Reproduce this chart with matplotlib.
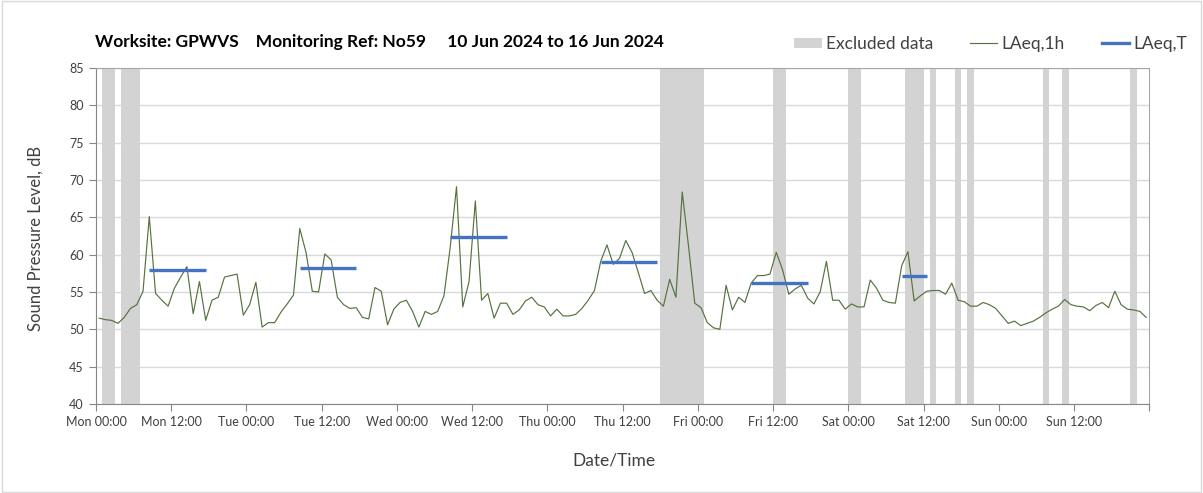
import numpy as np
import pandas as pd
import matplotlib
matplotlib.use('Agg')
import matplotlib.pyplot as plt
from matplotlib.patches import Patch, Rectangle
from matplotlib.lines import Line2D

plt.rcParams['font.family'] = ['Lato', 'DejaVu Sans']

# hourly LAeq,1h values from Mon 10 Jun 2024 00:00
laeq_1h = [
    51.5, 51.3, 51.2, 50.8, 51.6, 52.8, 53.3, 55.1, 65.1, 54.8,
    53.9, 53.1, 55.5, 57.0, 58.4, 52.1, 56.4, 51.2, 53.9, 54.3,
    57.0, 57.2, 57.4, 51.9, 53.3, 56.3, 50.3, 50.9, 50.9, 52.3,
    53.4, 54.6, 63.5, 60.3, 55.1, 55.0, 60.1, 59.3, 54.3, 53.3,
    52.8, 52.9, 51.6, 51.4, 55.6, 55.1, 50.6, 52.7, 53.6, 53.9,
    52.4, 50.3, 52.4, 52.0, 52.4, 54.5, 61.0, 69.1, 53.0, 56.4,
    67.2, 53.9, 54.8, 51.5, 53.5, 53.5, 52.0, 52.6, 53.8, 54.3,
    53.3, 53.0, 51.8, 52.7, 51.8, 51.8, 52.0, 52.8, 53.9, 55.2,
    59.1, 61.3, 58.7, 59.5, 61.9, 60.3, 57.6, 54.8, 55.2, 53.9,
    53.1, 56.7, 54.3, 68.4, 61.2, 53.5, 52.9, 50.9, 50.2, 50.0,
    55.9, 52.6, 54.3, 53.6, 56.2, 57.2, 57.2, 57.4, 60.3, 58.0,
    54.7, 55.4, 55.9, 54.2, 53.4, 55.0, 59.1, 53.9, 53.9, 52.7,
    53.4, 53.0, 53.0, 56.6, 55.5, 53.9, 53.6, 53.5, 58.5, 60.4,
    53.8, 54.5, 55.1, 55.2, 55.2, 54.7, 56.2, 53.9, 53.7, 53.1,
    53.1, 53.6, 53.3, 52.8, 51.8, 50.8, 51.1, 50.5, 50.8, 51.1,
    51.6, 52.2, 52.7, 53.1, 54.0, 53.3, 53.1, 53.0, 52.5, 53.2,
    53.6, 52.9, 55.1, 53.3, 52.7, 52.6, 52.4, 51.6]

# LAeq,T periods (hours from start) and levels
t_start = [8, 32, 56, 80, 104, 128]
t_end = [18, 42, 66, 90, 114, 133]
laeq_t = [58.0, 58.2, 62.3, 59.0, 56.2, 57.1]

# excluded data periods (hours from start)
excl_start = [1, 4, 90, 108, 120, 129, 133, 137, 139, 151, 154, 165]
excl_end = [3, 7, 97, 110, 122, 132, 134, 138, 140, 152, 155.2, 166]

t0 = pd.Timestamp('2024-06-10 00:00')
hr = pd.Timedelta(hours=1)
times = pd.date_range(t0 + 0.5 * hr, periods=len(laeq_1h), freq='h')

fig = plt.figure(figsize=(12.03, 4.93), dpi=100)
fig.patches.append(Rectangle((0.002, 0.003), 0.996, 0.994, transform=fig.transFigure,
                             fill=False, edgecolor='#d9d9d9', lw=1))
ax = fig.add_axes([96/1203, 1-404/493, (1149.3-96)/1203, (404-68)/493])

grey = '#d3d3d3'
for s, e in zip(excl_start, excl_end):
    ax.axvspan(t0 + s * hr, t0 + e * hr, color=grey, lw=0, zorder=1)

ax.plot(times, laeq_1h, color='#55723f', lw=0.85, zorder=3)
for s, e, v in zip(t_start, t_end, laeq_t):
    ax.plot([t0 + (s + 0.5) * hr, t0 + (e - 0.5) * hr], [v, v], color='#4472c4',
            lw=2.4, solid_capstyle='butt', zorder=4)

ax.set_xlim(t0, t0 + 168 * hr)
ax.set_ylim(40, 85)
ax.set_yticks(np.arange(40, 86, 5))
ax.grid(axis='y', color='#d9d9d9', lw=1)

ticks = pd.date_range(t0, periods=15, freq='12h')
labels = [t.strftime('%a %H:%M') for t in ticks]
labels[-1] = ''
ax.set_xticks(ticks)
ax.set_xticklabels(labels)
days = pd.date_range(t0, periods=8, freq='D')
ax.set_xticks(days, minor=True)
ax.grid(axis='x', which='minor', color='#d9d9d9', lw=1)
ax.set_axisbelow(True)
ax.tick_params(axis='both', which='major', length=5, color='#868686', labelsize=9,
               labelcolor='#404040', pad=4)
ax.tick_params(axis='x', which='minor', length=0)
for sp in ['left', 'bottom']:
    ax.spines[sp].set_color('#868686')
for sp in ['top', 'right']:
    ax.spines[sp].set_color('#a6a6a6')

fig.text(95/1203, 1-42/493, 'Worksite: GPWVS    Monitoring Ref: No59     10 Jun 2024 to 16 Jun 2024',
         fontsize=12.5, fontweight='bold', va='center', ha='left', color='black')
fig.text(614/1203, 1-461/493, 'Date/Time', fontsize=12.5, ha='center', va='center', color='#404040')
fig.text(36/1203, 1-238/493, 'Sound Pressure Level, dB', fontsize=12, rotation=90,
         ha='center', va='center', color='#404040')

handles = [Patch(facecolor=grey, edgecolor='none'),
           Line2D([], [], color='#55723f', lw=0.85),
           Line2D([], [], color='#4472c4', lw=2.4)]
fig.legend(handles, ['Excluded data', 'LAeq,1h', 'LAeq,T'], ncol=3, frameon=False,
           loc='center right', bbox_to_anchor=(1203/1203, 1-44/493), fontsize=12.5,
           handlelength=1.6, handleheight=0.5, handletextpad=0.25, columnspacing=2.1,
           labelcolor='#404040')

fig.savefig('out.png', dpi=100)
